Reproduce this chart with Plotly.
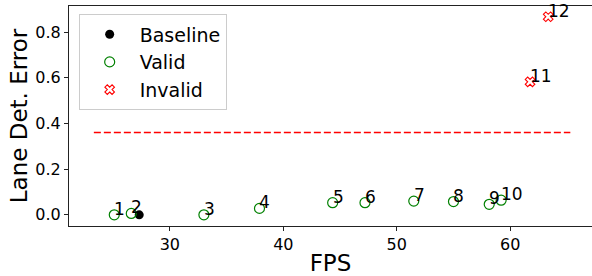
import plotly.graph_objects as go

# Data
labels = ["1", "2", "3", "4", "5", "6", "7", "8", "9", "10", "11", "12"]
fps = [25.1, 26.6, 33.0, 37.9, 44.35, 47.2, 51.5, 55.0, 58.15, 59.2, 61.75, 63.35]
err = [0.0, 0.006, 0.0, 0.028, 0.053, 0.053, 0.060, 0.058, 0.046, 0.064, 0.582, 0.867]
valid = [True, True, True, True, True, True, True, True, True, True, False, False]
baseline_fps = [27.3]
baseline_err = [0.0]
threshold = 0.36
threshold_x = [23.3, 65.3]

FONT = "DejaVu Sans"

vx = [f for f, v in zip(fps, valid) if v]
vy = [e for e, v in zip(err, valid) if v]
ix = [f for f, v in zip(fps, valid) if not v]
iy = [e for e, v in zip(err, valid) if not v]

fig = go.Figure()
fig.add_trace(go.Scatter(
    x=threshold_x, y=[threshold, threshold], mode="lines",
    line=dict(color="red", width=1.6, dash="7px,3px"), showlegend=False, hoverinfo="skip"))
fig.add_trace(go.Scatter(
    x=baseline_fps, y=baseline_err, mode="markers", name="Baseline",
    marker=dict(symbol="circle", size=9, color="black")))
fig.add_trace(go.Scatter(
    x=vx, y=vy, mode="markers", name="Valid",
    marker=dict(symbol="circle-open", size=10, color="green", line=dict(width=1.2))))
fig.add_trace(go.Scatter(
    x=ix, y=iy, mode="markers", name="Invalid",
    marker=dict(symbol="x-open", size=8.5, color="red", line=dict(width=1.1))))

for lab, f, e in zip(labels, fps, err):
    fig.add_annotation(x=f, y=e, text=lab, showarrow=False, xanchor="left", yanchor="bottom",
                       xshift=-1, yshift=-5, font=dict(family=FONT, size=17, color="black"),
                       borderpad=0)

fig.update_layout(
    width=592, height=276,
    margin=dict(l=69, r=0, t=6, b=50),
    paper_bgcolor="white", plot_bgcolor="white",
    font=dict(family=FONT, color="black"),
    legend=dict(x=0.0185, y=0.962, xanchor="left", yanchor="top",
                bgcolor="white", bordercolor="#cccccc", borderwidth=1,
                font=dict(family=FONT, size=19), itemwidth=50),
)
fig.update_xaxes(range=[21.11, 67.21], tickvals=[30, 40, 50, 60],
                 showline=True, linecolor="#222", linewidth=1.2, mirror=True,
                 ticks="outside", ticklen=4, tickcolor="#222",
                 showgrid=False, zeroline=False,
                 tickfont=dict(family=FONT, size=16),
                 title=dict(text="FPS", font=dict(family=FONT, size=23), standoff=4))
fig.update_yaxes(range=[-0.049, 0.914], tickvals=[0.0, 0.2, 0.4, 0.6, 0.8],
                 ticktext=["0.0", "0.2", "0.4", "0.6", "0.8"],
                 showline=True, linecolor="#222", linewidth=1.2,
                 ticks="outside", ticklen=4, tickcolor="#222",
                 showgrid=False, zeroline=False,
                 tickfont=dict(family=FONT, size=16),
                 title=dict(text="Lane Det. Error", font=dict(family=FONT, size=23), standoff=1))

fig.write_html("out.html", config={"displayModeBar": False},
               post_script="document.body.style.margin='0';document.body.style.overflow='hidden';")
